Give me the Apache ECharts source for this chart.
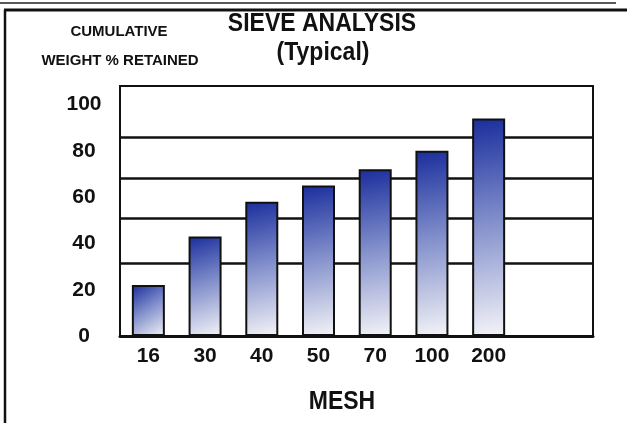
<!DOCTYPE html>
<html>
<head>
<meta charset="utf-8">
<script src="https://cdn.jsdelivr.net/npm/echarts@6/dist/echarts.min.js"></script>
<style>
  html, body { margin: 0; padding: 0; background: #fff; }
  #chart { width: 627px; height: 423px; }
</style>
</head>
<body>
<div id="chart"></div>
<script>
// mesh sizes (x labels)
const meshes = ['16', '30', '40', '50', '70', '100', '200'];
// cumulative weight % retained
const retained = [22, 43, 58, 65, 72, 80, 94];
// y tick labels
const yTicks = [0, 20, 40, 60, 80, 100];
// horizontal rules as drawn in the original (they do not sit on the ticks)
const ruleValues = [31.5, 51, 68, 86];

const FONT = 'Liberation Sans, Arial, sans-serif';

let myChart = echarts.init(document.getElementById('chart'));

const barColor = new echarts.graphic.LinearGradient(0, 0, 1, 1, [
  { offset: 0, color: '#1a2d9c' },
  { offset: 0.45, color: '#7c8ac9' },
  { offset: 1, color: '#f4f4f7' }
]);

myChart.setOption({
  backgroundColor: '#fff',
  animation: false,
  grid: {
    left: 120,
    right: 34,
    top: 86,
    bottom: 87,
    show: true,
    borderColor: '#111',
    borderWidth: 2
  },
  xAxis: {
    type: 'value',
    min: -0.5,
    max: 7.84,
    splitLine: { show: false },
    axisTick: { show: false },
    axisLine: { show: true, onZero: false, lineStyle: { color: '#111', width: 3 } },
    axisLabel: {
      customValues: meshes.map((m, i) => i),
      formatter: v => (Number.isInteger(v) && meshes[v] !== undefined ? meshes[v] : ''),
      color: '#111',
      fontFamily: FONT,
      fontWeight: 'bold',
      fontSize: 21,
      margin: 10
    }
  },
  yAxis: {
    type: 'value',
    min: 0,
    max: 108,
    splitLine: { show: false },
    axisTick: { show: false },
    axisLine: { show: false },
    axisLabel: {
      customValues: yTicks,
      formatter: v => (yTicks.indexOf(v) >= 0 ? String(v) : ''),
      align: 'center',
      margin: 36,
      color: '#111',
      fontFamily: FONT,
      fontWeight: 'bold',
      fontSize: 21
    }
  },
  graphic: [
    // outer frame of the scanned page
    { type: 'line', shape: { x1: 0, y1: 3, x2: 616, y2: 3 }, style: { stroke: '#222', lineWidth: 1.5 } },
    { type: 'line', shape: { x1: 4, y1: 10, x2: 627, y2: 10 }, style: { stroke: '#111', lineWidth: 3 } },
    { type: 'line', shape: { x1: 5, y1: 10, x2: 5, y2: 423 }, style: { stroke: '#111', lineWidth: 2.5 } },
    // titles (the scan is a little stretched upright)
    {
      type: 'text', x: 322, y: 24, scaleY: 1.1,
      style: { text: 'SIEVE ANALYSIS', align: 'center', verticalAlign: 'middle', fill: '#111', font: 'bold 23px ' + FONT }
    },
    {
      type: 'text', x: 323, y: 53, scaleY: 1.1,
      style: { text: '(Typical)', align: 'center', verticalAlign: 'middle', fill: '#111', font: 'bold 23px ' + FONT }
    },
    {
      type: 'text', x: 119, y: 32,
      style: { text: 'CUMULATIVE', align: 'center', verticalAlign: 'middle', fill: '#111', font: 'bold 15px ' + FONT }
    },
    {
      type: 'text', x: 120, y: 61,
      style: { text: 'WEIGHT % RETAINED', align: 'center', verticalAlign: 'middle', fill: '#111', font: 'bold 15px ' + FONT }
    },
    {
      type: 'text', x: 342, y: 402, scaleY: 1.1,
      style: { text: 'MESH', align: 'center', verticalAlign: 'middle', fill: '#111', font: 'bold 23px ' + FONT }
    }
  ],
  series: [
    {
      // rules behind the bars
      type: 'line',
      data: [],
      z: 1,
      silent: true,
      markLine: {
        silent: true,
        symbol: 'none',
        label: { show: false },
        lineStyle: { color: '#111', width: 2.5, type: 'solid' },
        data: ruleValues.map(v => ({ yAxis: v }))
      }
    },
    {
      type: 'bar',
      z: 5,
      barWidth: 33,
      data: retained.map((v, i) => [i, v]),
      itemStyle: {
        color: barColor,
        borderColor: '#111',
        borderWidth: 2
      }
    }
  ]
});
</script>
</body>
</html>
